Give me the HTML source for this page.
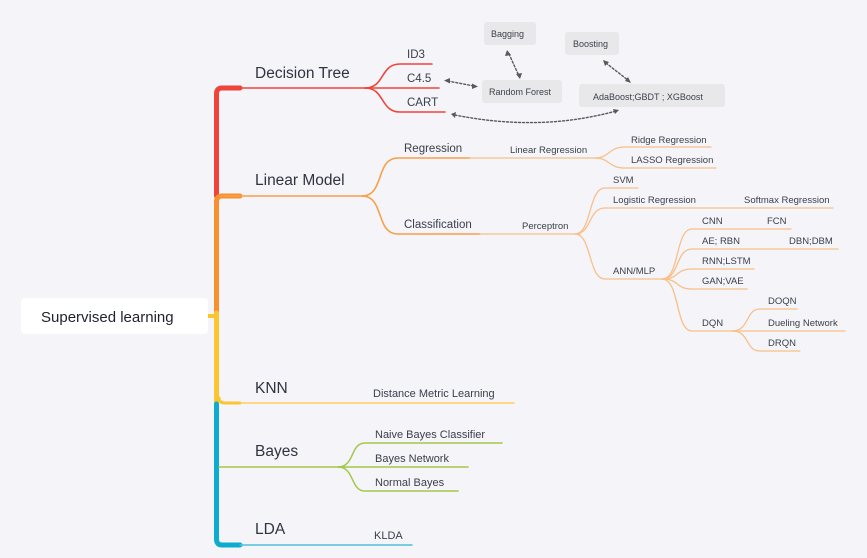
<!DOCTYPE html>
<html><head><meta charset="utf-8"><style>
html,body{margin:0;padding:0;background:#f4f4f9;}
svg{display:block;font-family:"Liberation Sans",sans-serif;}
.t15{font-size:15.5px;fill:#2f3440;}
.t12{font-size:11.5px;fill:#3a3f4a;}
.t10{font-size:9.5px;fill:#3a3f4a;}
.b{font-size:9px;fill:#3a3f4a;}
</style></head><body>
<svg width="867" height="558" viewBox="0 0 867 558" xmlns="http://www.w3.org/2000/svg">
<rect width="867" height="558" fill="#f4f4f9"/>
<g fill="none" stroke-linecap="round">
<path d="M216.5 196 V94 Q216.5 88 222 88 H240" stroke="#f0443a" stroke-width="5"/>
<path d="M216.5 313 V202 Q216.5 196 222 196 H240" stroke="#f7902f" stroke-width="5"/>
<path d="M216.5 404 V313" stroke="#fbc531" stroke-width="5"/>
<path d="M216.5 404 V539 Q216.5 545 222 545 H240" stroke="#0bacd0" stroke-width="5"/>
<path d="M208 316 H216" stroke="#fbc531" stroke-width="4"/>
<path d="M219 398 Q219 403 225 403 H240" stroke="#fbc531" stroke-width="3"/>
<g stroke="#f0443a" stroke-width="1.6">
<path d="M220 88 H372"/>
<path d="M365 88 C385 88 380 64 400 64 H432"/>
<path d="M365 88 H439"/>
<path d="M365 88 C385 88 380 112 400 112 H445"/>
</g>
<g stroke="#f7a048" stroke-width="1.6">
<path d="M220 196 H367"/>
<path d="M362 196 C385 196 375 158 398 158 H470"/>
<path d="M362 196 C385 196 375 234 398 234 H480"/>
</g>
<g stroke="#f8c089" stroke-width="1.3">
<path d="M470 158 H600"/>
<path d="M595 158 C610 158 608 147 625 147 H711"/>
<path d="M595 158 C610 158 608 168 625 168 H716"/>
<path d="M480 234 H580"/>
<path d="M575 234 C592 234 588 188 605 188 H638"/>
<path d="M575 234 C592 234 588 208 605 208 H833"/>
<path d="M575 234 C592 234 588 279 605 279 H667"/>
<path d="M662 279 C680 279 675 229 692 229 H791"/>
<path d="M662 279 C680 279 675 249 692 249 H838"/>
<path d="M662 279 C680 279 675 269 692 269 H754"/>
<path d="M662 279 C680 279 675 289 692 289 H747"/>
<path d="M662 279 C680 279 675 331 692 331 H737"/>
<path d="M732 331 C750 331 745 309 760 309 H797"/>
<path d="M732 331 H845"/>
<path d="M732 331 C750 331 745 351 760 351 H800"/>
</g>
<path d="M240 403 H514" stroke="#fbd060" stroke-width="1.4"/>
<g stroke="#a4c84a" stroke-width="1.5">
<path d="M219 467 H345"/>
<path d="M338 467 C355 467 350 443 365 443 H502"/>
<path d="M338 467 H468"/>
<path d="M338 467 C355 467 350 491 365 491 H458"/>
</g>
<path d="M240 545 H412" stroke="#4fc0dc" stroke-width="1.4"/>
<g stroke="#5a5a5a" stroke-width="1.4" stroke-dasharray="2,2">
<path d="M448 81 L474 86"/>
<path d="M509 54 L519 76"/>
<path d="M606 63 L629 81"/>
<path d="M455 115 Q540 132 616 111"/>
</g>
</g>
<g fill="#5a5a5a">
<path d="M478 86.5 L472 83.5 L472 89 Z"/>
<path d="M444 80.5 L450 78 L450 83.5 Z"/>
<path d="M520 79 L516 74 L522 73 Z"/>
<path d="M507 50 L505 56 L511 55 Z"/>
<path d="M631 83 L625 81 L628 77 Z"/>
<path d="M603 60 L605 66 L609 62 Z"/>
<path d="M619 110 L613 109 L615 114 Z"/>
<path d="M451 114 L456 112 L455 118 Z"/>
</g>
<g fill="#e8e8ea">
<rect x="484" y="22" width="52" height="23" rx="3"/>
<rect x="565" y="32" width="54" height="23" rx="3"/>
<rect x="482" y="80" width="80" height="23" rx="3"/>
<rect x="579" y="84" width="146" height="23" rx="3"/>
</g>
<rect x="21" y="298" width="187" height="36" rx="4" fill="#fff"/>
<text x="41" y="322" style="font-size:15px;fill:#1f2329;font-weight:500">Supervised learning</text>
<text class="b" x="491" y="37">Bagging</text>
<text class="b" x="573" y="47">Boosting</text>
<text class="b" x="489" y="95">Random Forest</text>
<text class="b" x="593" y="100">AdaBoost;GBDT ; XGBoost</text>
<text class="t15" x="255" y="78">Decision Tree</text>
<text class="t15" x="255" y="185">Linear Model</text>
<text class="t15" x="255" y="393">KNN</text>
<text class="t15" x="255" y="456">Bayes</text>
<text class="t15" x="255" y="534">LDA</text>
<text class="t12" x="407" y="58">ID3</text>
<text class="t12" x="407" y="82">C4.5</text>
<text class="t12" x="407" y="106">CART</text>
<text class="t12" x="404" y="152">Regression</text>
<text class="t12" x="404" y="228">Classification</text>
<text class="t10" x="510" y="153">Linear Regression</text>
<text class="t10" x="631" y="143">Ridge Regression</text>
<text class="t10" x="631" y="163">LASSO Regression</text>
<text class="t10" x="522" y="229">Perceptron</text>
<text class="t10" x="613" y="183">SVM</text>
<text class="t10" x="613" y="203">Logistic Regression</text>
<text class="t10" x="744" y="203">Softmax Regression</text>
<text class="t10" x="613" y="274">ANN/MLP</text>
<text class="t10" x="702" y="224">CNN</text>
<text class="t10" x="767" y="224">FCN</text>
<text class="t10" x="702" y="244">AE;  RBN</text>
<text class="t10" x="789" y="244">DBN;DBM</text>
<text class="t10" x="702" y="264">RNN;LSTM</text>
<text class="t10" x="702" y="284">GAN;VAE</text>
<text class="t10" x="702" y="326">DQN</text>
<text class="t10" x="768" y="304">DOQN</text>
<text class="t10" x="768" y="326">Dueling Network</text>
<text class="t10" x="768" y="346">DRQN</text>
<text class="t12" x="373" y="397" style="font-size:11px">Distance Metric Learning</text>
<text class="t12" x="375" y="438" style="font-size:11px">Naive Bayes Classifier</text>
<text class="t12" x="375" y="462" style="font-size:11px">Bayes  Network</text>
<text class="t12" x="375" y="486" style="font-size:11px">Normal Bayes</text>
<text class="t12" x="374" y="539" style="font-size:11px">KLDA</text>
</svg>
</body></html>
